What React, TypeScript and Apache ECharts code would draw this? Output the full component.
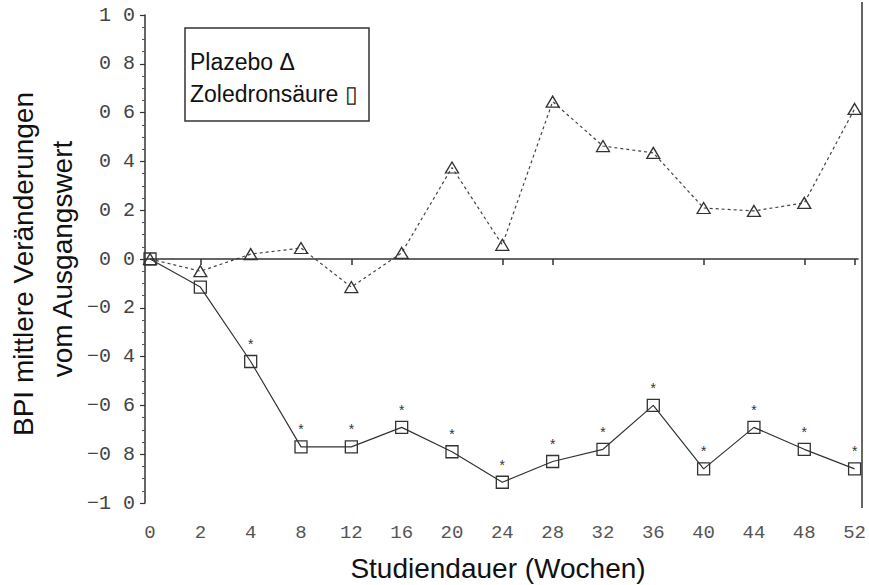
import React, { useEffect, useRef } from "react";
import * as echarts from "echarts";

const weeks = ["0", "2", "4", "8", "12", "16", "20", "24", "28", "32", "36", "40", "44", "48", "52"];
const plazebo = [0, -0.05, 0.02, 0.045, -0.115, 0.025, 0.375, 0.058, 0.645, 0.463, 0.435, 0.209, 0.197, 0.23, 0.615];
const zoledron = [0, -0.115, -0.42, -0.77, -0.77, -0.69, -0.79, -0.915, -0.83, -0.78, -0.6, -0.86, -0.69, -0.78, -0.86];
const significant = [false, false, true, true, true, true, true, true, true, true, true, true, true, true, true];
const xTickIdx = [1, 4, 7, 8, 11, 13, 14];
const legendLines = ["Plazebo Δ", "Zoledronsäure ▯"];
const yTitle = ["BPI mittlere Veränderungen", "vom Ausgangswert"];
const xTitle = "Studiendauer (Wochen)";

function fmtY(v: number): string {
  const d = Math.round(Math.abs(v) * 10);
  return (v < -1e-9 ? "\u2212" : "") + Math.floor(d / 10) + " " + (d % 10);
}

export default function App() {
  const ref = useRef<HTMLDivElement>(null);
  useEffect(() => {
    if (!ref.current) return;
    const chart = echarts.init(ref.current, undefined, { renderer: "svg" });
    const idx = weeks.map((_, i) => i);
    const mono = "Liberation Mono";
    const sans = "Liberation Sans";
    chart.setOption({
      animation: false,
      backgroundColor: "#fff",
      grid: { left: 145, right: 7, top: 15, bottom: 82 },
      xAxis: {
        type: "value",
        min: -0.1,
        max: 14.08,
        offset: 4,
        axisLine: { show: false },
        splitLine: { show: false },
        axisTick: {
          show: true,
          length: 6,
          customValues: xTickIdx,
          lineStyle: { color: "#333", width: 1.5 },
        },
        axisLabel: {
          customValues: idx,
          margin: 16,
          fontFamily: mono,
          fontSize: 19,
          color: "#555",
          formatter: (v: number) => weeks[Math.round(v)] ?? "",
        },
      },
      yAxis: {
        type: "value",
        min: -1,
        max: 1,
        interval: 0.2,
        splitLine: { show: false },
        axisLine: { show: true, onZero: false, lineStyle: { color: "#333", width: 1.5 } },
        axisTick: { show: true, length: 5, lineStyle: { color: "#333", width: 1.2 } },
        minorTick: { show: true, splitNumber: 4, length: 3, lineStyle: { color: "#555", width: 1 } },
        axisLabel: {
          margin: 10,
          fontFamily: mono,
          fontSize: 20,
          color: "#444",
          formatter: fmtY,
        },
      },
      series: [
        {
          name: "Plazebo",
          type: "line",
          data: plazebo.map((v, i) => [i, v]),
          symbol: "triangle",
          symbolSize: [13, 11],
          lineStyle: { color: "#444", width: 1.2, type: [3, 3] },
          itemStyle: { color: "rgba(255,255,255,0)", borderColor: "#333", borderWidth: 1.3 },
          z: 3,
          markLine: {
            silent: true,
            symbol: "none",
            label: { show: false },
            lineStyle: { color: "#333", width: 1.5, type: "solid" },
            data: [{ yAxis: 0 }],
          },
        },
        {
          name: "Zoledronsäure",
          type: "line",
          data: zoledron.map((v, i) => ({
            value: [i, v],
            label: significant[i]
              ? { show: true, position: "top", distance: 2, formatter: "*", fontFamily: mono, fontSize: 14, color: "#333" }
              : { show: false },
          })),
          symbol: "rect",
          symbolSize: 12,
          lineStyle: { color: "#333", width: 1.2, type: "solid" },
          itemStyle: { color: "rgba(255,255,255,0)", borderColor: "#333", borderWidth: 1.3 },
          z: 3,
        },
      ],
      graphic: [
        {
          type: "line",
          shape: { x1: 862, y1: 2, x2: 862, y2: 508 },
          style: { stroke: "#333", lineWidth: 1.5 },
        },
        {
          type: "rect",
          shape: { x: 185, y: 28, width: 184, height: 93 },
          style: { fill: "none", stroke: "#333", lineWidth: 1.5 },
        },
        {
          type: "text",
          x: 190,
          y: 62,
          style: { text: legendLines[0], fontFamily: sans, fontSize: 23, fill: "#111", align: "left", verticalAlign: "middle" },
        },
        {
          type: "text",
          x: 190,
          y: 94,
          style: { text: legendLines[1], fontFamily: sans, fontSize: 23, fill: "#111", align: "left", verticalAlign: "middle" },
        },
        {
          type: "text",
          x: 23,
          y: 264,
          rotation: Math.PI / 2,
          style: { text: yTitle[0], fontFamily: sans, fontSize: 28, fill: "#111", align: "center", verticalAlign: "middle" },
        },
        {
          type: "text",
          x: 62,
          y: 259,
          rotation: Math.PI / 2,
          style: { text: yTitle[1], fontFamily: sans, fontSize: 28, fill: "#111", align: "center", verticalAlign: "middle" },
        },
        {
          type: "text",
          x: 498,
          y: 568,
          style: { text: xTitle, fontFamily: sans, fontSize: 28, fill: "#111", align: "center", verticalAlign: "middle" },
        },
      ],
    });
    return () => chart.dispose();
  }, []);
  return (
    <div
      ref={ref}
      style={{ position: "absolute", left: 0, top: 0, width: 869, height: 585 }}
    />
  );
}
